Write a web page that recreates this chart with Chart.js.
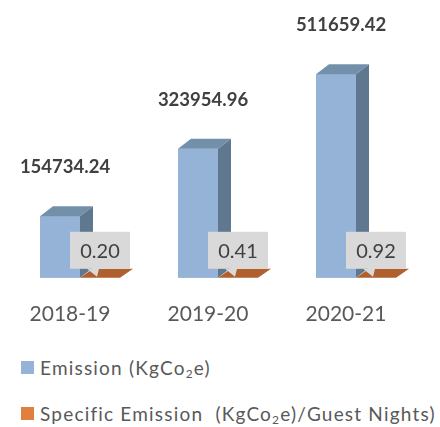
<!doctype html>
<html>
<head>
<meta charset="utf-8">
<title>Emission</title>
<script src="https://cdn.jsdelivr.net/npm/chart.js@4/dist/chart.umd.min.js"></script>
<style>
	body { margin: 0; background: #fff; }
	#wrap { position: relative; width: 440px; height: 427px; }
	#canvas { display: block; }
	.leg { position: absolute; left: 0; height: 20px; font-family: Lato, sans-serif; font-size: 19px; color: #595959; letter-spacing: 1.2px; white-space: nowrap; }
	.leg .sw { position: absolute; left: 21px; top: 0; width: 13px; height: 13px; }
	.leg .tx { position: absolute; left: 40px; top: -5px; }
	.leg sub { font-size: 12px; vertical-align: -3px; line-height: 0; }
</style>
</head>
<body>
<div id="wrap">
	<canvas id="canvas" width="440" height="355"></canvas>
	<div class="leg" style="top:361px"><span class="sw" style="background:#95b3d7"></span><span class="tx">Emission (KgCo<sub>2</sub>e)</span></div>
	<div class="leg" style="top:407px"><span class="sw" style="background:#e07f40"></span><span class="tx">Specific Emission &nbsp;(KgCo<sub>2</sub>e)/Guest Nights)</span></div>
</div>
<script>
var years = ["2018-19", "2019-20", "2020-21"];
var emission = [154734.24, 323954.96, 511659.42];
var specific = [0.20, 0.41, 0.92];

var dx = 13, dy = 10;

function poly(ctx, pts, color) {
	ctx.beginPath();
	ctx.moveTo(pts[0][0], pts[0][1]);
	for (var i = 1; i < pts.length; i++) ctx.lineTo(pts[i][0], pts[i][1]);
	ctx.closePath();
	ctx.fillStyle = color;
	ctx.fill();
}

var bar3d = {
	id: 'bar3d',
	afterDatasetsDraw: function(chart) {
		var ctx = chart.ctx;
		var blue = chart.getDatasetMeta(0).data;
		var orange = chart.getDatasetMeta(1).data;
		ctx.save();
		blue.forEach(function(b, i) {
			var l = b.x - b.width / 2, r = b.x + b.width / 2, t = b.y, bt = b.base;
			// front face redrawn here so nothing is lost
			ctx.fillStyle = '#95b3d7';
			ctx.fillRect(l, t, r - l, bt - t);
			poly(ctx, [[l, t], [r, t], [r + dx, t - dy], [l + dx, t - dy]], '#7390ab');
			poly(ctx, [[r, t], [r + dx, t - dy], [r + dx, bt - dy], [r, bt]], '#5f7890');
			ctx.font = 'bold 18.5px Lato, sans-serif';
			ctx.fillStyle = '#404040';
			ctx.textAlign = 'center';
			ctx.textBaseline = 'middle';
			ctx.fillText(emission[i].toFixed(2), b.x + 5, t - 49);
		});
		orange.forEach(function(b, i) {
			var l = b.x - b.width / 2, r = b.x + b.width / 2, t = b.y;
			poly(ctx, [[l, t], [r, t], [r + dx, t - dy + 1], [l + dx, t - dy + 1]], '#b0602f');
			// callout box
			var bx = b.x - 30, by = t - dy + 1 - 37;
			ctx.fillStyle = '#d9d9d9';
			ctx.fillRect(bx, by, 60, 37);
			poly(ctx, [[b.x - 13, by + 37], [b.x - 1, by + 37], [b.x - 3, t - 1]], '#d9d9d9');
			ctx.font = '20px Lato, sans-serif';
			ctx.fillStyle = '#404040';
			ctx.textAlign = 'center';
			ctx.textBaseline = 'middle';
			ctx.fillText(specific[i].toFixed(2), b.x, by + 20);
		});
		ctx.restore();
	}
};

window.onload = function() {
	var ctx = document.getElementById("canvas").getContext("2d");
	window.myBar = new Chart(ctx, {
		type: 'bar',
		data: {
			labels: years,
			datasets: [
				{ label: 'Emission (KgCo2e)', data: emission, backgroundColor: '#95b3d7', borderWidth: 0 },
				{ label: 'Specific Emission (KgCo2e)/Guest Nights)', data: specific, backgroundColor: '#e07f40', borderWidth: 0 }
			]
		},
		options: {
			responsive: false,
			animation: false,
			events: [],
			categoryPercentage: 80 / 138,
			barPercentage: 1,
			layout: { padding: { left: 11, right: 15, top: 0, bottom: 4 } },
			plugins: { legend: { display: false }, tooltip: { enabled: false } },
			scales: {
				x: {
					grid: { display: false, drawTicks: false },
					border: { display: false },
					ticks: { color: '#595959', font: { family: 'Lato', size: 21 }, padding: 24, labelOffset: -10 }
				},
				y: { display: false, min: 0, max: 698000 }
			}
		},
		plugins: [bar3d]
	});
};
</script>
</body>
</html>
